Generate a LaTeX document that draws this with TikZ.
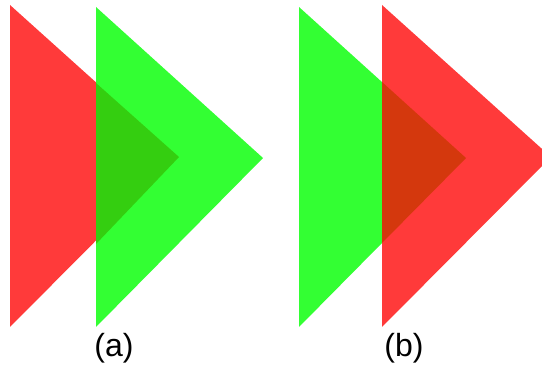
\documentclass[tikz,border=0pt]{standalone}
\usepackage{fontspec}
\setmainfont{Liberation Sans}
\usepackage{xcolor}
\usepackage{tikz}
\usetikzlibrary{positioning,calc}

\definecolor{brightred}{RGB}{255,58,58}
\definecolor{brightgreen}{RGB}{51,255,51}
\definecolor{darkgreen}{RGB}{52,206,16}
\definecolor{darkred}{RGB}{212,56,13}

\begin{document}
\begin{tikzpicture}[
    x=1pt,y=-1pt,
    redtri/.style={fill=brightred,draw=none},
    greentri/.style={fill=brightgreen,draw=none},
    overlap/.style={draw=none},
    caption/.style={font=\fontsize{32}{36}\selectfont,inner sep=0pt}
  ]
    \useasboundingbox (0,0) rectangle (542,371);
    % (a): red below, green above
    \fill[redtri] (10,5) -- (179,157) -- (10,327) -- cycle;
    \fill[greentri] (96,7) -- (263,158) -- (96,327) -- cycle;
    \fill[overlap,fill=darkgreen] (96,83) -- (179,157) -- (96,244) -- cycle;
    \node[caption] (capa) at (114,348) {(a)};
    % (b): green below, red above
    \fill[greentri] (299,7) -- (466,158) -- (299,327) -- cycle;
    \fill[redtri] (382,5) -- (551,157) -- (382,327) -- cycle;
    \fill[overlap,fill=darkred] (382,82) -- (466,158) -- (382,243) -- cycle;
    \node[caption] (capb) at (404,348) {(b)};
  \end{tikzpicture}
\end{document}
